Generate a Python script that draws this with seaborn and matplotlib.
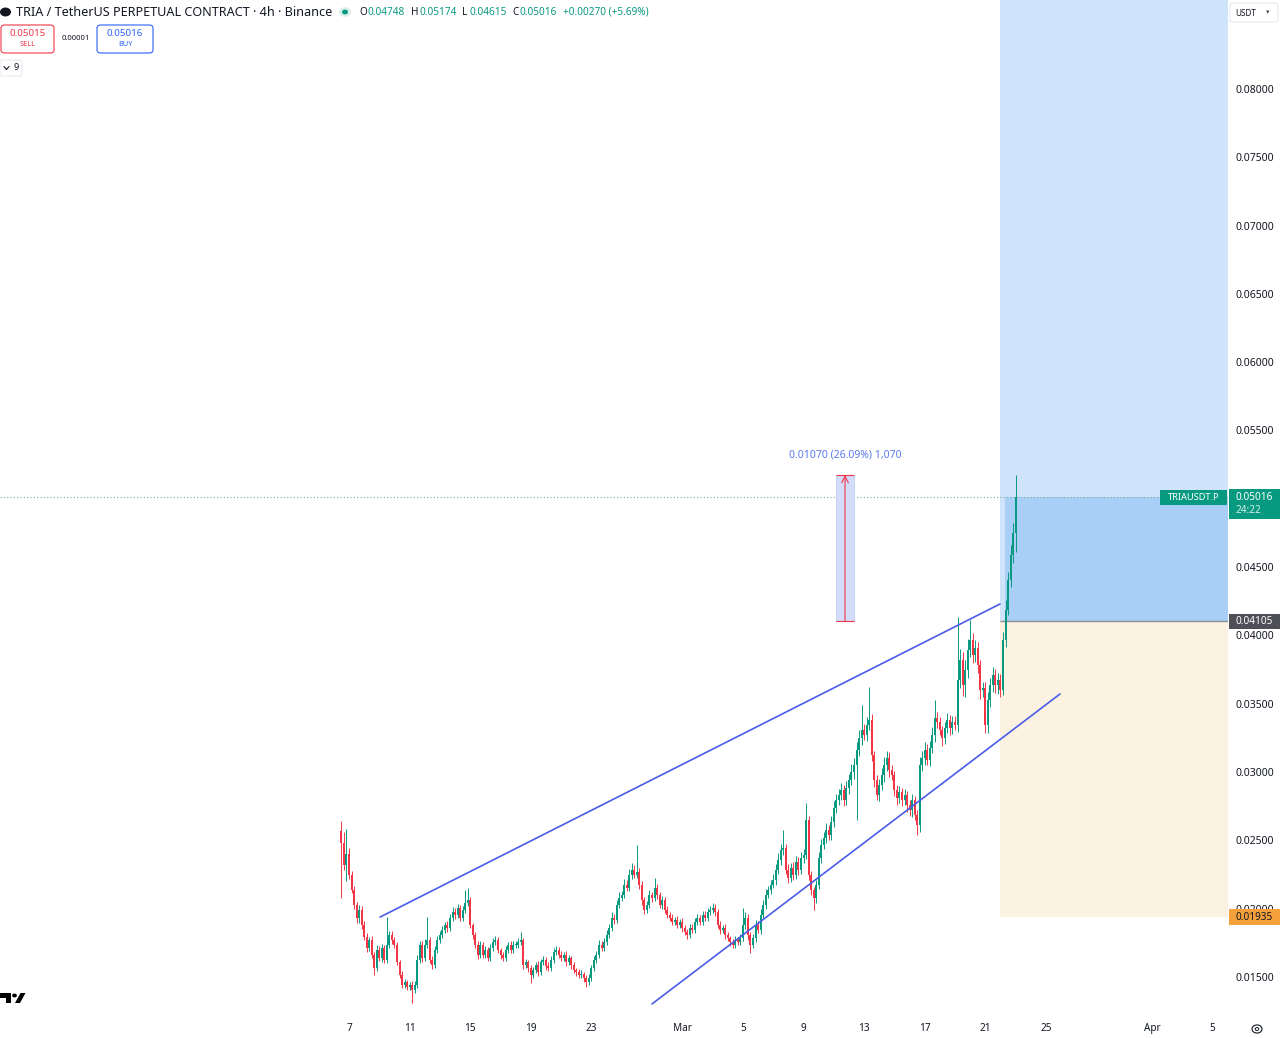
import numpy as np
import pandas as pd
import matplotlib
matplotlib.use("Agg")
import matplotlib.pyplot as plt
import seaborn as sns
from matplotlib.patches import Rectangle, Polygon, FancyBboxPatch, Circle

# ---- data (prices in units of 0.00001 USDT, one value per 4h candle) ----
first_open = 2570
close = [
    2480, 2320, 2400, 2247, 2137, 2027, 1932, 1991, 1881, 1793,
    1713, 1771, 1661, 1566, 1698, 1639, 1713, 1625, 1735, 1808,
    1771, 1735, 1610, 1515, 1442, 1464, 1427, 1442, 1405, 1442,
    1625, 1735, 1639, 1735, 1771, 1625, 1588, 1698, 1771, 1808,
    1845, 1881, 1859, 1932, 1976, 1954, 2006, 1932, 1991, 2042,
    2064, 1881, 1808, 1735, 1661, 1735, 1661, 1698, 1639, 1713,
    1757, 1771, 1698, 1661, 1639, 1698, 1735, 1698, 1735, 1735,
    1757, 1771, 1588, 1610, 1566, 1515, 1551, 1588, 1537, 1610,
    1625, 1581, 1566, 1625, 1683, 1698, 1661, 1639, 1661, 1610,
    1639, 1588, 1551, 1537, 1515, 1522, 1493, 1464, 1493, 1566,
    1625, 1661, 1735, 1713, 1757, 1808, 1859, 1932, 1918, 2027,
    2079, 2100, 2174, 2152, 2247, 2284, 2247, 2269, 2174, 2064,
    1991, 2027, 2100, 2079, 2152, 2100, 2027, 2064, 1991, 1954,
    1932, 1903, 1918, 1881, 1903, 1859, 1830, 1808, 1859, 1845,
    1903, 1932, 1903, 1954, 1932, 1976, 1991, 2006, 1976, 1881,
    1845, 1859, 1808, 1786, 1757, 1735, 1771, 1757, 1786, 1881,
    1932, 1808, 1735, 1786, 1881, 1845, 1954, 2027, 2100, 2137,
    2174, 2210, 2284, 2357, 2430, 2445, 2284, 2225, 2298, 2247,
    2343, 2284, 2372, 2393, 2650, 2247, 2137, 2079, 2174, 2372,
    2467, 2518, 2577, 2540, 2635, 2738, 2796, 2833, 2869, 2796,
    2884, 2942, 3001, 3052, 3162, 3250, 3308, 3272, 3345, 3382,
    3125, 2942, 2833, 2906, 2979, 3052, 3104, 3016, 2979, 2869,
    2811, 2855, 2796, 2833, 2759, 2723, 2796, 2686, 2613, 3052,
    3104, 3162, 3089, 3177, 3272, 3396, 3367, 3308, 3250, 3323,
    3382, 3323, 3367, 3345, 3674, 3821, 3638, 3748, 3894, 3967,
    3857, 3909, 3784, 3601, 3616, 3345, 3528, 3638, 3711, 3638,
    3674, 3601, 3967, 4187, 4406, 4589, 4746, 5016,
]
wick_up = [
    70, 82, 180, 40, 30, 25, 20, 35, 30, 25,
    30, 20, 25, 20, 35, 30, 25, 20, 205, 30,
    25, 20, 20, 15, 25, 20, 15, 20, 25, 30,
    35, 30, 25, 40, 169, 20, 25, 30, 30, 25,
    30, 20, 25, 30, 35, 25, 30, 20, 30, 95,
    88, 20, 15, 20, 25, 30, 20, 25, 20, 30,
    25, 30, 20, 15, 20, 25, 20, 25, 30, 25,
    30, 59, 15, 20, 15, 20, 25, 20, 25, 20,
    30, 20, 25, 30, 25, 30, 20, 25, 20, 25,
    20, 15, 20, 15, 20, 25, 15, 20, 25, 20,
    30, 25, 35, 25, 30, 35, 30, 40, 30, 35,
    40, 30, 45, 35, 40, 50, 35, 198, 30, 25,
    20, 30, 35, 25, 73, 25, 20, 30, 20, 25,
    20, 25, 20, 25, 20, 25, 20, 20, 30, 25,
    30, 25, 20, 30, 25, 30, 25, 35, 25, 20,
    25, 20, 25, 20, 15, 20, 25, 20, 30, 125,
    40, 25, 20, 30, 35, 25, 40, 35, 40, 30,
    35, 40, 45, 50, 40, 132, 30, 40, 35, 45,
    40, 35, 45, 40, 124, 30, 25, 20, 35, 40,
    45, 40, 50, 35, 45, 50, 40, 45, 50, 35,
    50, 45, 55, 50, 60, 55, 183, 40, 60, 241,
    40, 30, 35, 45, 50, 60, 50, 40, 35, 30,
    35, 40, 30, 40, 30, 35, 45, 30, 35, 60,
    50, 55, 40, 50, 60, 130, 40, 35, 30, 45,
    50, 35, 45, 40, 462, 80, 60, 70, 80, 147,
    50, 60, 40, 35, 45, 40, 60, 50, 60, 45,
    50, 40, 60, 70, 60, 70, 80, 158,
]
wick_dn = [
    400, 40, 120, 30, 25, 30, 35, 40, 30, 25,
    30, 20, 25, 50, 20, 25, 30, 25, 20, 25,
    30, 25, 20, 25, 20, 25, 20, 25, 95, 20,
    25, 20, 30, 25, 20, 25, 30, 20, 25, 20,
    25, 20, 30, 20, 25, 30, 20, 25, 20, 25,
    20, 25, 30, 25, 30, 20, 25, 20, 25, 20,
    25, 20, 25, 30, 25, 20, 25, 20, 25, 20,
    25, 20, 30, 25, 30, 59, 20, 25, 30, 20,
    25, 30, 25, 20, 25, 20, 25, 20, 25, 30,
    25, 30, 25, 30, 25, 20, 30, 37, 25, 20,
    25, 20, 25, 20, 25, 20, 25, 20, 30, 25,
    20, 25, 20, 25, 20, 30, 25, 20, 30, 35,
    30, 25, 20, 30, 25, 30, 25, 30, 25, 20,
    25, 20, 25, 20, 25, 30, 25, 30, 20, 25,
    20, 25, 20, 25, 20, 25, 20, 25, 30, 25,
    30, 25, 30, 25, 30, 25, 20, 25, 20, 25,
    30, 40, 59, 25, 30, 25, 30, 25, 30, 25,
    30, 25, 35, 30, 35, 40, 30, 35, 30, 35,
    30, 35, 30, 35, 30, 35, 40, 88, 35, 30,
    35, 30, 40, 35, 40, 35, 40, 35, 40, 45,
    40, 45, 40, 50, 400, 45, 50, 40, 45, 40,
    45, 50, 40, 45, 40, 50, 45, 50, 40, 45,
    50, 40, 45, 40, 50, 45, 50, 40, 73, 50,
    45, 50, 40, 45, 40, 50, 45, 40, 60, 45,
    40, 50, 45, 40, 50, 60, 80, 90, 60, 50,
    60, 50, 60, 70, 50, 58, 60, 50, 55, 60,
    70, 50, 40, 50, 40, 50, 60, 133,
]
price_unit = 1e-5
first_candle_day = -0.5      # Feb 6 12:00, days counted from Feb 7 00:00
candle_step = 1 / 6          # 4h

x_tick_days = [0, 4, 8, 12, 16, 22, 26, 30, 34, 38, 42, 46, 53, 57]
x_tick_labels = ["7", "11", "15", "19", "23", "Mar", "5", "9", "13", "17", "21", "25", "Apr", "5"]
y_ticks = [0.015, 0.020, 0.025, 0.030, 0.035, 0.040, 0.045,
           0.055, 0.060, 0.065, 0.070, 0.075, 0.080]

upper_line_days = [2.05, 42.97]
upper_line_price = [0.01938, 0.04230]
lower_line_days = [20.0, 46.93]
lower_line_price = [0.01302, 0.03571]

entry_price = 0.04105
stop_price = 0.01935
last_price = 0.05016
measure_low, measure_high = 0.04105, 0.05175
measure_days = [32.15, 33.33]
position_start_day = 42.97

# ---- layout ----
W, H = 1280, 1038
GREEN, RED = "#089981", "#f23645"
TXT = "#131722"

sns.set_theme(style="white")
plt.rcParams["font.family"] = ["Noto Sans", "DejaVu Sans"]

fig = plt.figure(figsize=(W / 100, H / 100), dpi=100)
ax = fig.add_axes([0, 1 - 1016 / H, 1228 / W, 1016 / H])
xmin, xmax = -349 / 15.15, (1228 - 349) / 15.15
ymin, ymax = 0.012138, 0.086515
ax.set_xlim(xmin, xmax)
ax.set_ylim(ymin, ymax)
for s in ax.spines.values():
    s.set_visible(False)


def fx(x):
    return x / W


def fy(y):
    return 1 - y / H


# position tool (long)
ax.add_patch(Rectangle((position_start_day, entry_price), xmax - position_start_day,
                       ymax - entry_price, fc="#cfe4fb", ec="none", zorder=0))
ax.add_patch(Rectangle((position_start_day, stop_price), xmax - position_start_day,
                       entry_price - stop_price, fc="#fbf2e1", ec="none", zorder=0))
ax.add_patch(Rectangle((position_start_day + 0.33, entry_price), xmax - position_start_day - 0.33,
                       last_price - entry_price, fc="#a9cff6", ec="none", zorder=0.5))
ax.hlines(entry_price, position_start_day, xmax, color="#8a8e99", lw=1.0, zorder=1)

# current price dotted line
ax.axhline(last_price, color="#6fb0a4", ls=(0, (1, 2)), lw=0.8, zorder=1)

# candles
c = np.array(close, dtype=float)
o = np.concatenate([[first_open], c[:-1]])
hi = np.maximum(o, c) + np.array(wick_up)
lo = np.minimum(o, c) - np.array(wick_dn)
t = first_candle_day + candle_step * np.arange(len(c))
up = c >= o
cols = np.where(up, GREEN, RED)
ax.vlines(t, lo * price_unit, hi * price_unit, colors=cols, lw=0.7, zorder=3)
body = np.maximum(np.abs(c - o), 4) * price_unit
ax.bar(t, body, bottom=np.minimum(o, c) * price_unit, width=0.13, color=cols,
       linewidth=0, zorder=3)

# trend lines
lines = pd.DataFrame({
    "day": upper_line_days + lower_line_days,
    "price": upper_line_price + lower_line_price,
    "line": ["upper", "upper", "lower", "lower"],
})
sns.lineplot(data=lines, x="day", y="price", units="line", estimator=None,
             color="#4a5ce8", lw=1.2, ax=ax, zorder=4)
ax.set_xlabel("")
ax.set_ylabel("")

# measurement tool
mx = sum(measure_days) / 2
ax.add_patch(Rectangle((measure_days[0], measure_low), measure_days[1] - measure_days[0],
                       measure_high - measure_low, fc="#d3dcf9", ec="#b7c5f4", lw=0.5, zorder=2))
ax.hlines([measure_low, measure_high], measure_days[0], measure_days[1], color=RED, lw=0.8, zorder=5)
ax.annotate("", xy=(mx, measure_high), xytext=(mx, measure_low),
            arrowprops=dict(arrowstyle="->", color=RED, lw=0.8, shrinkA=0, shrinkB=0), zorder=5)
ax.text(mx, 0.0532, "0.01070 (26.09%) 1,070", color="#5a7af0", fontsize=7.5,
        ha="center", va="center", zorder=6)

# axes ticks
ax.yaxis.tick_right()
ax.set_yticks(y_ticks)
ax.set_yticklabels([f"{v:.5f}" for v in y_ticks], fontsize=7.5, color=TXT)
ax.set_xticks(x_tick_days)
ax.set_xticklabels(x_tick_labels, fontsize=7.2, color=TXT)
for lab in ax.get_xticklabels():
    if lab.get_text() in ("Mar", "Apr"):
        lab.set_fontweight("bold")
ax.tick_params(axis="y", length=0, pad=5.5)
ax.tick_params(axis="x", length=0, pad=5)
ax.grid(False)

# right axis price labels
def axis_label(y0, y1, color, lines_txt, txtcol="white", x0=1229, x1=1280):
    fig.add_artist(Rectangle((fx(x0), fy(y1)), (x1 - x0) / W, (y1 - y0) / H,
                             transform=fig.transFigure, fc=color, ec="none", zorder=10))
    for yy, s, cc in lines_txt:
        fig.text(fx(x0 + 6), fy(yy), s, fontsize=7.2, color=cc or txtcol,
                 ha="left", va="center", zorder=11)


axis_label(489, 519, GREEN, [(497, "0.05016", None), (511, "24:22", "#d6efe9")])
axis_label(614, 629, "#4f5057", [(622, "0.04105", None)])
axis_label(909, 925, "#f5a03a", [(917, "0.01935", TXT)])
fig.add_artist(Rectangle((fx(1160), fy(505)), 67 / W, 15 / H, transform=fig.transFigure,
                         fc=GREEN, ec="none", zorder=10))
fig.text(fx(1193.5), fy(497.5), "TRIAUSDT.P", fontsize=6.7, color="white",
         ha="center", va="center", zorder=11)

# USDT selector
fig.add_artist(FancyBboxPatch((fx(1230), fy(22)), 48 / W, 19 / H, boxstyle="round,pad=0,rounding_size=0.002",
                              transform=fig.transFigure, fc="white", ec="#e0e3eb", lw=0.6, zorder=10))
fig.text(fx(1235), fy(13), "USDT", fontsize=5.8, color=TXT, ha="left", va="center", zorder=11)
fig.text(fx(1268), fy(13), "▾", fontsize=5, color="#555", ha="center", va="center", zorder=11)

# header
fig.add_artist(Circle((fx(5.5), fy(12)), 5.5 / W, transform=fig.transFigure, fc=TXT, ec="none"))
fig.text(fx(16), fy(12.5), "TRIA / TetherUS PERPETUAL CONTRACT · 4h · Binance",
         fontsize=9.1, color=TXT, ha="left", va="center")
fig.add_artist(Circle((fx(345), fy(12)), 6 / W, transform=fig.transFigure, fc="#d9efe9", ec="none"))
fig.add_artist(Circle((fx(345), fy(12)), 3 / W, transform=fig.transFigure, fc=GREEN, ec="none"))
for xx, s, cc in [(359, "O", TXT), (367, "0.04748", GREEN), (411, "H", TXT), (419, "0.05174", GREEN),
                  (462, "L", TXT), (469, "0.04615", GREEN), (512, "C", TXT), (520, "0.05016", GREEN),
                  (563, "+0.00270 (+5.69%)", GREEN)]:
    fig.text(fx(xx), fy(12.5), s, fontsize=7.2, color=cc, ha="left", va="center")

# sell / buy buttons
for x0, x1, ec, price, word in [(1, 54, RED, "0.05015", "SELL"), (97, 153, "#2962ff", "0.05016", "BUY")]:
    fig.add_artist(FancyBboxPatch((fx(x0), fy(53)), (x1 - x0) / W, 28 / H,
                                  boxstyle="round,pad=0,rounding_size=0.003",
                                  transform=fig.transFigure, fc="white", ec=ec, lw=0.8))
    fig.text(fx((x0 + x1) / 2), fy(33), price, fontsize=7, color=ec, ha="center", va="center")
    fig.text(fx((x0 + x1) / 2), fy(45), word, fontsize=5.3, color=ec, ha="center", va="center")
fig.text(fx(76), fy(39), "0.00001", fontsize=5.5, color=TXT, ha="center", va="center")

fig.add_artist(FancyBboxPatch((fx(0), fy(76)), 22 / W, 16 / H, boxstyle="round,pad=0,rounding_size=0.002",
                              transform=fig.transFigure, fc="white", ec="#e0e3eb", lw=0.6))
fig.add_artist(plt.Line2D([fx(4), fx(6.5), fx(9)], [fy(66.5), fy(69.5), fy(66.5)],
                          transform=fig.transFigure, color=TXT, lw=0.8))
fig.text(fx(16), fy(68), "9", fontsize=6.5, color=TXT, ha="center", va="center")

# TradingView logo
fig.add_artist(Polygon([(fx(0), fy(993)), (fx(11), fy(993)), (fx(11), fy(1003)), (fx(6), fy(1003)),
                        (fx(6), fy(997.5)), (fx(0), fy(997.5))], closed=True,
                       transform=fig.transFigure, fc="black", ec="none"))
fig.add_artist(Circle((fx(14.5), fy(995.5)), 2.4 / W, transform=fig.transFigure, fc="black", ec="none"))
fig.add_artist(Polygon([(fx(15), fy(1003)), (fx(20), fy(1003)), (fx(25.5), fy(993)), (fx(20.5), fy(993))],
                       closed=True, transform=fig.transFigure, fc="black", ec="none"))

# settings gear
fig.add_artist(Circle((fx(1257), fy(1029)), 5 / W, transform=fig.transFigure, fc="none", ec=TXT, lw=0.8))
fig.add_artist(Circle((fx(1257), fy(1029)), 1.8 / W, transform=fig.transFigure, fc="none", ec=TXT, lw=0.7))

fig.savefig("out.png", dpi=100)
